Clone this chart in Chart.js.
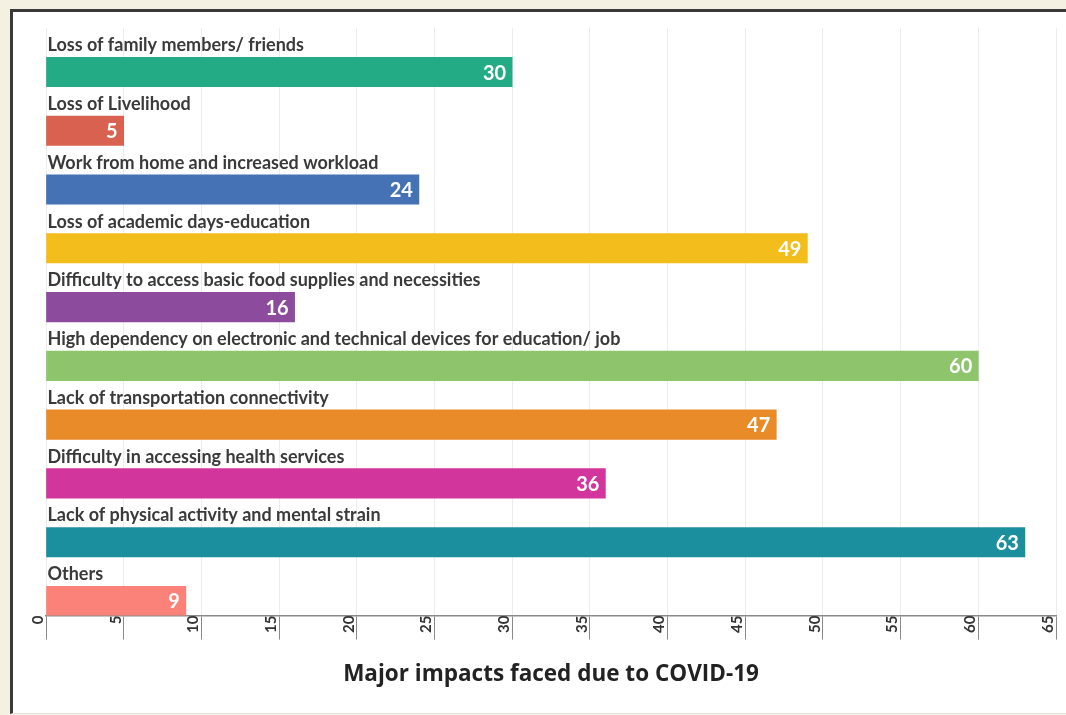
<!DOCTYPE html>
<html>
<head>
<meta charset="utf-8">
<script src="https://cdn.jsdelivr.net/npm/chart.js@4.4.1/dist/chart.umd.min.js"></script>
<style>
  html, body { margin: 0; padding: 0; background: #f4f1e3; }
  #frame {
    position: absolute; left: 10px; top: 9px; width: 1080px; height: 701px;
    background: #fff; border-left: 3px solid #3a3a38; border-top: 3px solid #3a3a38;
    border-bottom: 1px solid #e4e2da;
  }
  #wrap { position: absolute; left: 0; top: 0; width: 1066px; height: 715px; }
</style>
</head>
<body>
<div id="frame"></div>
<div id="wrap"><canvas id="impactChart"></canvas></div>
<script>
// impacts and number of respondents reporting each
const categories = [
  'Loss of family members/ friends',
  'Loss of Livelihood',
  'Work from home and increased workload',
  'Loss of academic days-education',
  'Difficulty to access basic food supplies and necessities',
  'High dependency on electronic and technical devices for education/ job',
  'Lack of transportation connectivity',
  'Difficulty in accessing health services',
  'Lack of physical activity and mental strain',
  'Others'
];
const counts = [30, 5, 24, 49, 16, 60, 47, 36, 63, 9];
const barColors = ['#22ab84', '#d9614f', '#4571b5', '#f3bd1b', '#8d4b9d',
                   '#8ec46b', '#e98b29', '#d2359b', '#1b8f9d', '#fa8279'];
const xTicks = [0, 5, 10, 15, 20, 25, 30, 35, 40, 45, 50, 55, 60, 65];

const labelFont = '"Lato", "Noto Sans", sans-serif';

// writes the category name above each bar and its count inside the bar end
const barText = {
  id: 'barText',
  afterDatasetsDraw(chart){
    const ctx = chart.ctx;
    const meta = chart.getDatasetMeta(1);
    ctx.save();
    meta.data.forEach((bar, i) => {
      const top = bar.y - bar.height / 2;
      ctx.fillStyle = '#3a3a3a';
      ctx.font = 'bold 18px ' + labelFont;
      ctx.textAlign = 'left';
      ctx.textBaseline = 'alphabetic';
      ctx.fillText(categories[i], bar.base + 1, top - 6);
      ctx.fillStyle = '#ffffff';
      ctx.font = 'bold 20px ' + labelFont;
      ctx.textAlign = 'right';
      ctx.textBaseline = 'middle';
      ctx.fillText(String(counts[i]), bar.x - 6, bar.y + 1);
    });
    ctx.restore();
  }
};

const ctx = document.getElementById('impactChart').getContext('2d');
new Chart(ctx, {
  type: 'bar',
  data: {
    labels: categories,
    datasets: [
      // empty spacer keeps the upper half of each row free for its name
      { label: '', data: categories.map(() => null) },
      { label: 'Respondents', data: counts, backgroundColor: barColors, borderWidth: 0 }
    ]
  },
  options: {
    indexAxis: 'y',
    responsive: true,
    maintainAspectRatio: false,
    animation: false,
    layout: { padding: { left: 46, right: 10, top: 28, bottom: 27 } },
    datasets: { bar: { barPercentage: 1, categoryPercentage: 1 } },
    plugins: { legend: { display: false }, tooltip: { enabled: false } },
    scales: {
      y: { display: false },
      x: {
        min: 0, max: 65,
        afterBuildTicks(scale){ scale.ticks = xTicks.map(v => ({ value: v })); },
        grid: { color: '#ececec', tickColor: '#8a8a8a', tickLength: 24, lineWidth: 1 },
        border: { color: '#8a8a8a', width: 1.5 },
        ticks: {
          minRotation: 90, maxRotation: 90,
          padding: -24, labelOffset: -8,
          color: '#333',
          font: { family: labelFont, size: 15, weight: 'bold' }
        },
        title: {
          display: true,
          text: 'Major impacts faced due to COVID-19',
          color: '#222',
          font: { family: '"Open Sans", "Noto Sans", sans-serif', size: 22.5, weight: 'bold' },
          padding: { top: 52, bottom: 0 }
        }
      }
    }
  },
  plugins: [barText]
});
</script>
</body>
</html>
